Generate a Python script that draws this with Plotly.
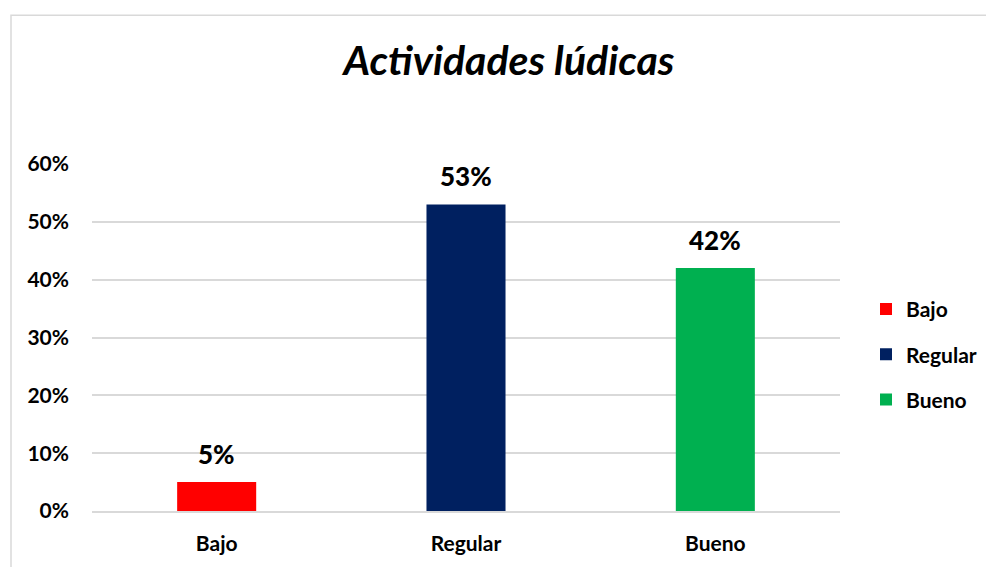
import plotly.graph_objects as go

categories = ["Bajo", "Regular", "Bueno"]
values = [0.05, 0.53, 0.42]
labels = ["5%", "53%", "42%"]
colors = ["#ff0000", "#002060", "#00b050"]
y_ticks = [0, 0.1, 0.2, 0.3, 0.4, 0.5, 0.6]
y_tick_labels = ["0%", "10%", "20%", "30%", "40%", "50%", "60%"]
title = "Actividades lúdicas"

FONT = "Lato"

fig = go.Figure()
for c, v, col in zip(categories, values, colors):
    fig.add_trace(go.Bar(
        x=[c], y=[v], name=c,
        marker=dict(color=col, line=dict(width=0)),
        legendgroup=c,
    ))

annotations = [
    dict(x=c, y=v, xref="x", yref="y", text=l, showarrow=False,
         yanchor="middle", yshift=28,
         font=dict(family=FONT, size=26, color="#000000", weight=900))
    for c, v, l in zip(categories, values, labels)
]

# page body has an 8px margin: shift figure accordingly
W, H = 986, 559
fig.update_layout(
    width=W, height=H,
    margin=dict(l=84, r=W - 832, t=156, b=H - 506),
    paper_bgcolor="white", plot_bgcolor="white",
    barmode="overlay", bargap=0.683,
    title=dict(text="<b><i>" + title + "</i></b>", x=(509 - 92) / 748, xref="paper",
               xanchor="center", y=1 - 53 / H, yanchor="middle",
               font=dict(family=FONT, size=41, color="#000000")),
    showlegend=True,
    legend=dict(x=1 + (866 - 840) / 748, y=0.5 - 17 / 350, xanchor="left", yanchor="middle",
                font=dict(family=FONT, size=21, color="#000000", weight="bold"),
                tracegroupgap=15, bgcolor="rgba(0,0,0,0)"),
    xaxis=dict(categoryorder="array", categoryarray=categories,
               tickfont=dict(family=FONT, size=21, color="#000000", weight="bold"),
               showline=True, linecolor="#d9d9d9", linewidth=1.5,
               ticks="", ticklabelstandoff=13, showgrid=False, fixedrange=True),
    yaxis=dict(range=[0, 0.6], tickvals=y_ticks, ticktext=y_tick_labels,
               tickfont=dict(family=FONT, size=21, color="#000000", weight="bold"),
               showgrid=True, gridcolor="#d9d9d9", gridwidth=1.5,
               zeroline=False, ticks="", ticklabelstandoff=22, showline=False),
    annotations=annotations,
    shapes=[dict(type="rect", xref="paper", yref="paper",
                 x0=(11 - 92) / 748, x1=1.4, y0=-0.5, y1=(514 - 14) / 350,
                 line=dict(color="#d9d9d9", width=1.5), fillcolor="rgba(0,0,0,0)",
                 layer="below")],
)

fig.write_html("out.html")
